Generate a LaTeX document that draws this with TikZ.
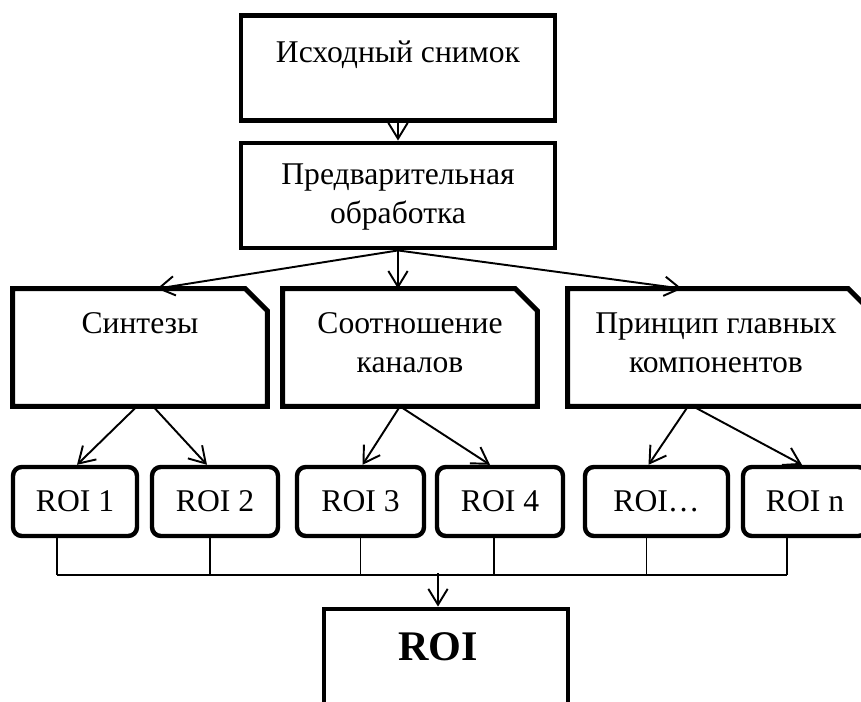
\documentclass[tikz,border=0pt]{standalone}
\usepackage{fontspec}
\setmainfont{Liberation Serif}
\usetikzlibrary{arrows.meta,calc}
\tikzset{
  blk/.style={draw, line width=2.8pt, minimum width=6.28cm, minimum height=2.1cm},
  cutbox/.style={minimum height=2.34cm},
  edge/.style={line width=2.8pt},
  roi/.style={draw, line width=2.5pt, rounded corners=5pt, minimum height=1.38cm, font=\fontsize{18}{22}\selectfont},
  txt/.style={font=\fontsize{18}{22}\selectfont, align=center, inner sep=0pt},
  arr/.style={-{Straight Barb[length=9pt,width=11pt]}, line width=1.1pt},
  bus/.style={line width=0.8pt}
}
\begin{document}
\begin{tikzpicture}[x=0.02cm,y=-0.02cm]
  \useasboundingbox (0,0) rectangle (861,702);
  \node[blk] (b1) at (398,68) {};
  \node[blk] (b2) at (398,195.5) {};
  \node[cutbox, minimum width=5.08cm] (c1) at (140,347.5) {};
  \node[cutbox, minimum width=5.08cm] (c2) at (410,347.5) {};
  \node[cutbox, minimum width=6.04cm] (c3) at (719,347.5) {};
  \foreach \c in {c1,c2,c3}
    \draw[edge] (\c.south west) |- ($(\c.north east)+(-22,0)$) -- ($(\c.north east)+(0,22)$) -- (\c.south east) -- cycle;
  \node[draw, line width=2.8pt, minimum width=4.88cm, minimum height=4cm] (b3) at (446,709) {};
  \node[txt] (t1) at (398,55) {Исходный снимок};
  \node[txt] (t2) at (398,197) {Предварительная\\обработка};
  \node[txt] (t3) at (140,323) {Синтезы};
  \node[txt] (t4) at (410,343) {Соотношение\\каналов};
  \node[txt] (t5) at (716,343) {Принцип главных\\компонентов};
  \node[txt, font=\fontsize{24}{28}\selectfont\bfseries] (t6) at (438,647) {ROI};
  \foreach \n/\x/\w/\l in {r1/75/2.48/ROI 1, r2/215/2.52/ROI 2, r3/360.5/2.54/ROI 3,
                           r4/500/2.52/ROI 4, r5/656.5/2.86/ROI…, r6/805/2.48/ROI n}
    \node[roi, minimum width=\w cm] (\n) at (\x,501.5) {\l};
  \draw[arr] (b1) -- (b2);
  \draw[arr] (b2.south) -- ($(c1.north)+(17,0)$);
  \draw[arr] (b2.south) -- (b2.south |- c2.north);
  \draw[arr] (b2.south) -- ($(c3.north)+(-37,0)$);
  \foreach \a/\da/\b/\db in {c1/-3/r1/2, c1/13/r2/-8, c2/-10/r3/2, c2/-10/r4/-10, c3/-31/r5/-8, c3/-26/r6/-3}
    \draw[arr] ($(\a.south)+(\da,0)$) -- ($(\b.north)+(\db,0)$);
  \foreach \r/\d in {r1/-18, r2/-5, r3/0, r4/-6, r5/-10, r6/-18}
    \draw[bus] ($(\r.south)+(\d,0)$) -- ++(0,37);
  \draw[bus] ($(r1.south)+(-18,37)$) coordinate (busL) -- ($(r6.south)+(-18,37)$);
  \coordinate (j) at (438,573);
  \draw[arr] (j) -- (j |- b3.north);
\end{tikzpicture}
\end{document}
